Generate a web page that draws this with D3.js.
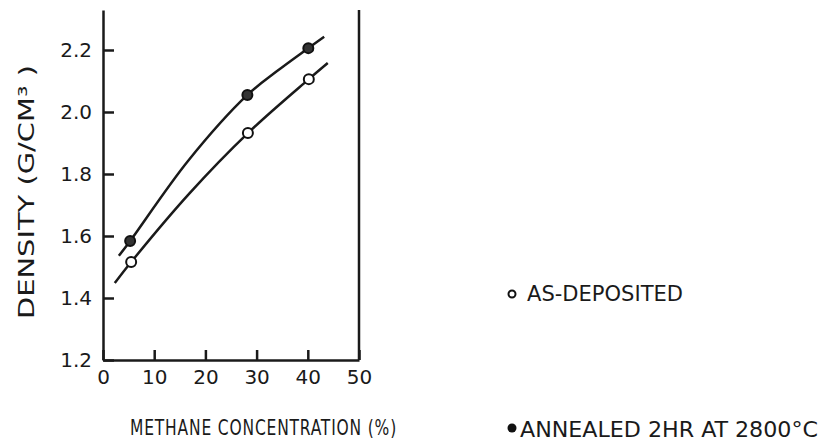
<!DOCTYPE html>
<html>
<head>
<meta charset="utf-8">
<script src="https://cdn.jsdelivr.net/npm/d3@7"></script>
<style>
  body { margin: 0; background: #fff; }
  text { font-family: "DejaVu Sans", sans-serif; fill: #1a1a1a; }
  .title { font-family: "DejaVu Sans Condensed", "DejaVu Sans", sans-serif; }
</style>
</head>
<body>
<div class="chart"></div>
<script>
// Density vs methane concentration, as-deposited and annealed

// measured points
var annealedMethane = [5.3, 28.2, 40.1];
var annealedDensity = [1.584, 2.055, 2.206];
var depositedMethane = [5.5, 28.3, 40.2];
var depositedDensity = [1.516, 1.932, 2.106];

// drawn curves
var annealedCurveX = [3.1, 5.3, 16.6, 28.2, 34.0, 40.1, 43.2];
var annealedCurveY = [1.536, 1.584, 1.842, 2.055, 2.132, 2.206, 2.243];
var depositedCurveX = [2.3, 5.5, 16.8, 28.3, 40.2, 43.9];
var depositedCurveY = [1.448, 1.516, 1.736, 1.932, 2.106, 2.158];

// ticks
var xTicks = [0, 10, 20, 30, 40, 50];
var yTicks = [1.2, 1.4, 1.6, 1.8, 2.0, 2.2];

var svgWidth = 821;
var svgHeight = 446;

var svg = d3.select(".chart")
    .append("svg")
    .attr("width", svgWidth)
    .attr("height", svgHeight);

var xScale = d3.scaleLinear()
    .domain([0, 50])
    .range([103, 359]);

var yScale = d3.scaleLinear()
    .domain([1.2, 2.329])
    .range([360, 10]);

// axes with inward ticks
var bottomAxis = d3.axisBottom(xScale)
    .tickValues(xTicks)
    .tickSize(-10)
    .tickSizeOuter(0)
    .tickPadding(10);

var leftAxis = d3.axisLeft(yScale)
    .tickValues(yTicks)
    .tickFormat(d3.format(".1f"))
    .tickSize(-11)
    .tickSizeOuter(0)
    .tickPadding(11);

var xAxisG = svg.append("g")
    .attr("transform", `translate(0, ${yScale(1.2)})`)
    .call(bottomAxis);

var yAxisG = svg.append("g")
    .attr("transform", `translate(${xScale(0)}, 0)`)
    .call(leftAxis);

[xAxisG, yAxisG].forEach(function(g) {
    g.selectAll("path, line")
        .attr("stroke", "#1a1a1a")
        .attr("stroke-width", 2.5);
    g.selectAll("text")
        .style("font-size", "20px")
        .attr("fill", "#1a1a1a");
});

// right frame line
svg.append("line")
    .attr("x1", xScale(50))
    .attr("x2", xScale(50))
    .attr("y1", yScale(1.2))
    .attr("y2", yScale.range()[1])
    .attr("stroke", "#1a1a1a")
    .attr("stroke-width", 2.5);

// curves
var line = d3.line()
    .x(d => xScale(d[0]))
    .y(d => yScale(d[1]))
    .curve(d3.curveCatmullRom.alpha(0.5));

svg.append("path")
    .datum(d3.zip(annealedCurveX, annealedCurveY))
    .attr("d", line)
    .attr("fill", "none")
    .attr("stroke", "#1a1a1a")
    .attr("stroke-width", 2.5);

svg.append("path")
    .datum(d3.zip(depositedCurveX, depositedCurveY))
    .attr("d", line)
    .attr("fill", "none")
    .attr("stroke", "#1a1a1a")
    .attr("stroke-width", 2.5);

// markers
svg.selectAll(".annealed")
    .data(d3.zip(annealedMethane, annealedDensity))
    .enter()
    .append("circle")
    .attr("class", "annealed")
    .attr("cx", d => xScale(d[0]))
    .attr("cy", d => yScale(d[1]))
    .attr("r", 5)
    .attr("fill", "#333")
    .attr("stroke", "#111")
    .attr("stroke-width", 2);

svg.selectAll(".deposited")
    .data(d3.zip(depositedMethane, depositedDensity))
    .enter()
    .append("circle")
    .attr("class", "deposited")
    .attr("cx", d => xScale(d[0]))
    .attr("cy", d => yScale(d[1]))
    .attr("r", 5)
    .attr("fill", "#fff")
    .attr("stroke", "#111")
    .attr("stroke-width", 2);

// axis titles
svg.append("text")
    .attr("class", "title")
    .attr("transform", "translate(34, 192) rotate(-90)")
    .attr("text-anchor", "middle")
    .attr("textLength", 254)
    .attr("lengthAdjust", "spacingAndGlyphs")
    .style("font-size", "21px")
    .text("DENSITY (G/CM\u00b3 )");

svg.append("text")
    .attr("class", "title")
    .attr("x", 130)
    .attr("y", 435)
    .attr("textLength", 267)
    .attr("lengthAdjust", "spacingAndGlyphs")
    .style("font-size", "21px")
    .style("letter-spacing", "1px")
    .text("METHANE CONCENTRATION (%)");

// legend
svg.append("circle")
    .attr("cx", 512)
    .attr("cy", 294)
    .attr("r", 3.5)
    .attr("fill", "#fff")
    .attr("stroke", "#111")
    .attr("stroke-width", 2);

svg.append("text")
    .attr("class", "title")
    .attr("x", 527)
    .attr("y", 301)
    .attr("textLength", 156)
    .attr("lengthAdjust", "spacingAndGlyphs")
    .style("font-size", "21px")
    .text("AS-DEPOSITED");

svg.append("circle")
    .attr("cx", 512)
    .attr("cy", 428)
    .attr("r", 4.5)
    .attr("fill", "#111");

svg.append("text")
    .attr("class", "title")
    .attr("x", 520)
    .attr("y", 437)
    .attr("textLength", 298)
    .attr("lengthAdjust", "spacingAndGlyphs")
    .style("font-size", "21px")
    .text("ANNEALED 2HR AT 2800\u00b0C");
</script>
</body>
</html>
